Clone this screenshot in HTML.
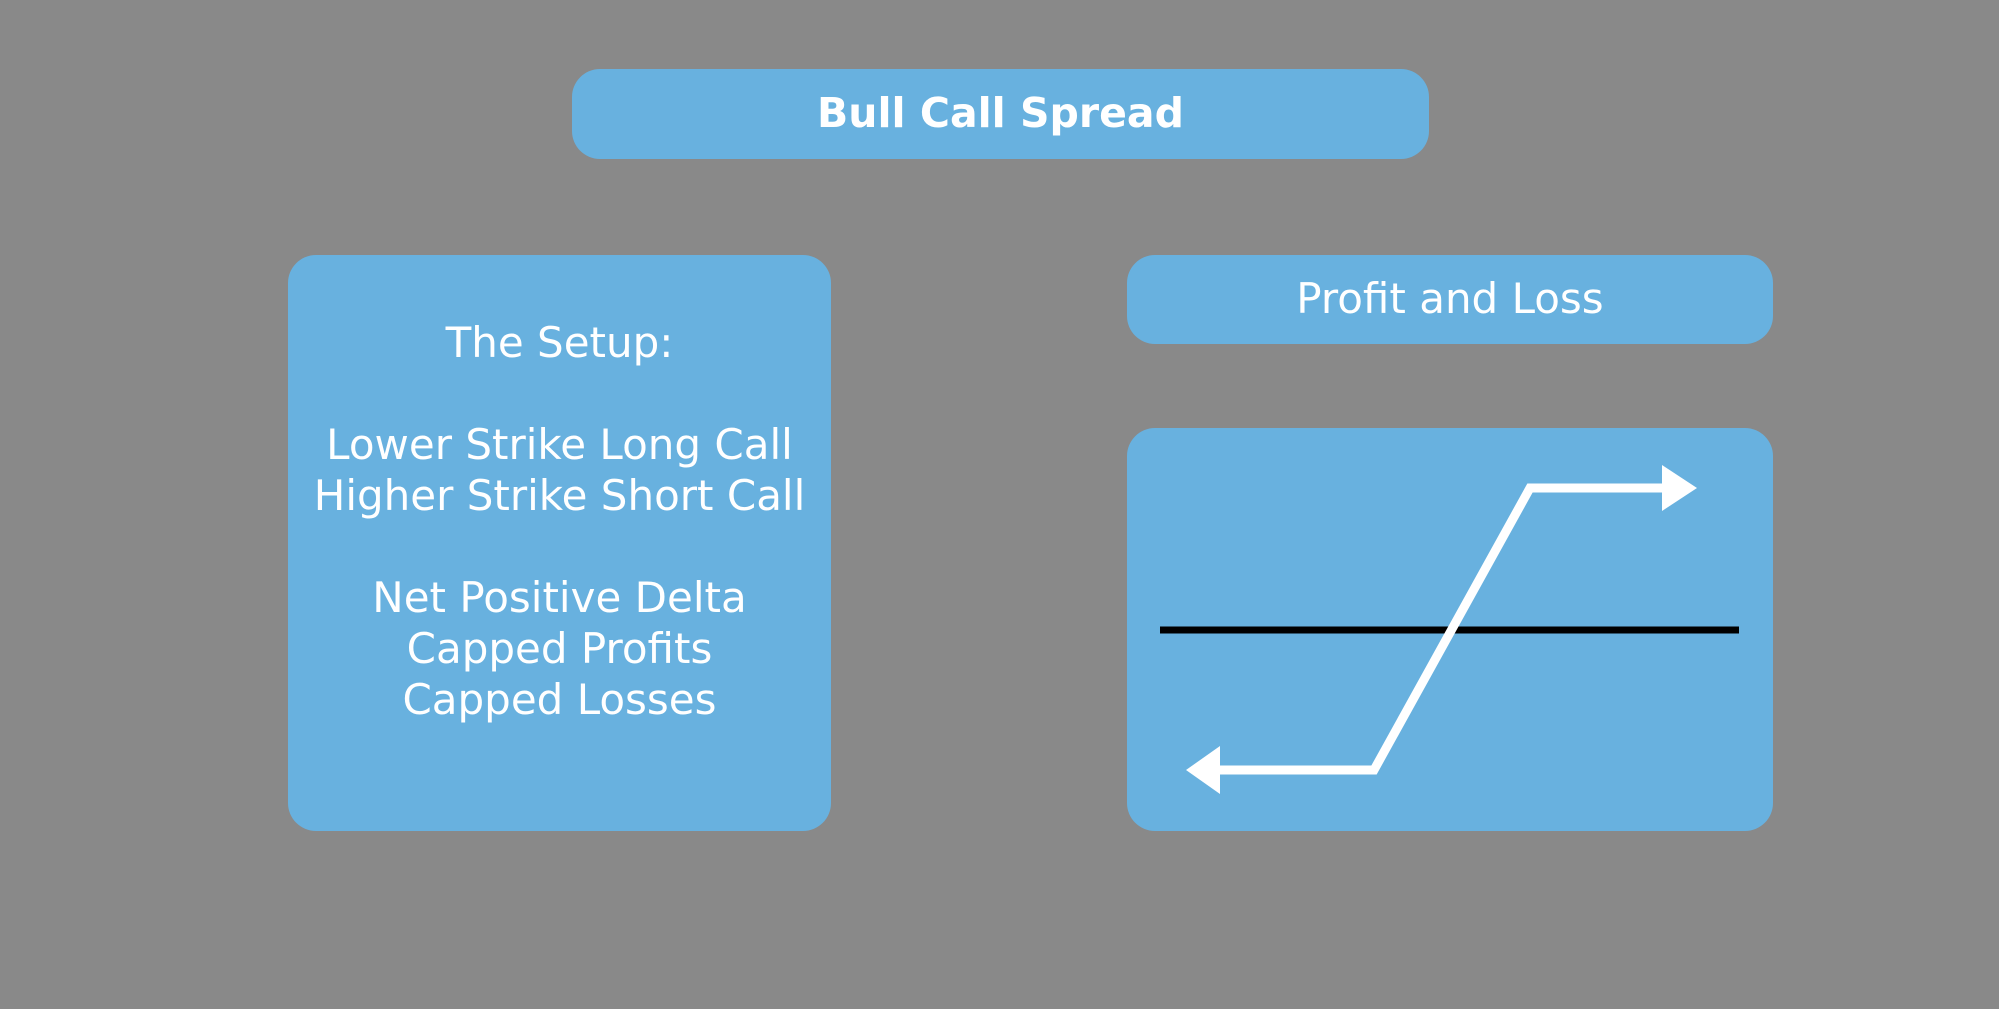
<!DOCTYPE html>
<html><head><style>
body{margin:0;width:1999px;height:1009px;background:#898989;position:relative;overflow:hidden;font-family:"DejaVu Sans","Liberation Sans",sans-serif;color:#fff}
.b{position:absolute;background:#68b1df;border-radius:28px}
.t{position:absolute;left:0;width:100%;text-align:center;white-space:nowrap}
</style></head><body>
<div class="b" style="left:572px;top:69px;width:857px;height:90px"><div class="t" style="top:20px;font-size:41px;font-weight:bold;line-height:48px">Bull Call Spread</div></div>
<div class="b" style="left:288px;top:255px;width:543px;height:576px">
<div class="t" style="top:62px;font-size:42px;line-height:51px">The Setup:</div>
<div class="t" style="top:164px;font-size:42px;line-height:51px">Lower Strike Long Call<br>Higher Strike Short Call</div>
<div class="t" style="top:317px;font-size:42px;line-height:51px">Net Positive Delta<br>Capped Profits<br>Capped Losses</div>
</div>
<div class="b" style="left:1127px;top:255px;width:646px;height:89px"><div class="t" style="top:19px;font-size:42px;line-height:50px">Profit and Loss</div></div>
<div class="b" style="left:1127px;top:428px;width:646px;height:403px"></div>
<svg style="position:absolute;left:0;top:0" width="1999" height="1009">
<line x1="1160" y1="630" x2="1739" y2="630" stroke="#000" stroke-width="7"/>
<polyline points="1210,770 1374,770 1530,488 1666,488" fill="none" stroke="#fff" stroke-width="9"/>
<polygon points="1186,770 1220,746 1220,794" fill="#fff"/>
<polygon points="1697,488 1662,465 1662,511" fill="#fff"/>
</svg>
</body></html>
